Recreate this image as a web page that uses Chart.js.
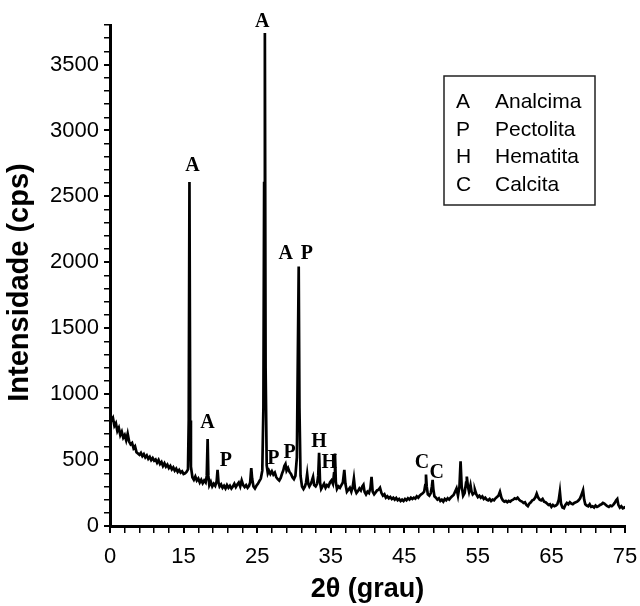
<!DOCTYPE html>
<html>
<head>
<meta charset="utf-8">
<script src="https://cdn.jsdelivr.net/npm/chart.js@4.4.0/dist/chart.umd.min.js"></script>
<style>
  html, body { margin: 0; padding: 0; background: #fff; }
  #wrap { width: 640px; height: 606px; }
</style>
</head>
<body>
<div id="wrap"><canvas id="c" width="640" height="606"></canvas></div>
<script>
// ---- Data ----
const twoTheta = [
  5.0,5.2,5.4,5.6,5.8,6.0,6.2,6.4,6.6,6.8,7.0,7.2,7.4,7.6,7.8,8.0,8.2,8.4,8.6,8.8,
  9.0,9.2,9.4,9.6,9.8,10.0,10.2,10.4,10.6,10.8,11.0,11.2,11.4,11.6,11.8,12.0,12.2,12.4,12.6,12.8,
  13.0,13.2,13.4,13.6,13.8,14.0,14.2,14.4,14.6,14.8,15.0,15.2,15.4,15.6,15.7,15.8,15.9,16.0,16.2,16.4,
  16.6,16.8,17.0,17.2,17.4,17.6,17.8,18.0,18.15,18.27,18.37,18.5,18.7,18.9,19.1,19.3,19.5,19.62,19.75,19.9,
  20.1,20.3,20.5,20.7,20.9,21.1,21.3,21.5,21.7,21.9,22.1,22.3,22.5,22.7,22.9,23.1,23.3,23.5,23.7,23.9,
  24.05,24.2,24.32,24.5,24.7,24.9,25.1,25.3,25.5,25.7,25.85,25.95,26.05,26.15,26.3,26.45,26.6,26.8,27.0,27.2,
  27.4,27.6,27.8,28.0,28.2,28.4,28.55,28.7,28.85,29.0,29.2,29.4,29.6,29.8,30.0,30.2,30.4,30.55,30.65,30.75,
  30.9,31.1,31.3,31.5,31.65,31.8,31.95,32.1,32.3,32.45,32.6,32.75,32.95,33.15,33.3,33.42,33.55,33.7,33.9,34.1,
  34.3,34.5,34.7,34.9,35.1,35.3,35.45,35.58,35.7,35.85,36.05,36.25,36.45,36.65,36.85,37.0,37.2,37.4,37.6,37.8,
  38.0,38.15,38.3,38.5,38.7,38.9,39.1,39.3,39.45,39.6,39.8,40.0,40.2,40.4,40.55,40.7,40.9,41.1,41.3,41.5,
  41.7,41.9,42.1,42.3,42.5,42.7,42.9,43.1,43.3,43.5,43.7,43.9,44.1,44.3,44.5,44.7,44.9,45.1,45.3,45.5,
  45.7,45.9,46.1,46.3,46.5,46.7,46.9,47.1,47.3,47.5,47.7,47.85,47.95,48.05,48.2,48.4,48.6,48.75,48.85,48.95,
  49.1,49.3,49.5,49.7,49.9,50.1,50.3,50.5,50.7,50.9,51.1,51.3,51.5,51.7,51.9,52.1,52.3,52.5,52.65,52.8,
  53.0,53.2,53.4,53.5,53.65,53.8,54.0,54.15,54.3,54.5,54.6,54.8,55.0,55.2,55.4,55.6,55.8,56.0,56.2,56.4,
  56.6,56.8,57.0,57.2,57.4,57.6,57.8,58.0,58.2,58.4,58.6,58.8,59.0,59.2,59.4,59.6,59.8,60.0,60.2,60.4,
  60.6,60.8,61.0,61.2,61.4,61.6,61.8,62.0,62.2,62.4,62.6,62.8,63.0,63.2,63.4,63.6,63.8,64.0,64.2,64.4,
  64.6,64.8,65.0,65.2,65.4,65.6,65.8,66.0,66.15,66.3,66.5,66.7,66.9,67.1,67.3,67.5,67.7,67.9,68.1,68.3,
  68.5,68.7,68.9,69.1,69.3,69.45,69.6,69.8,70.0,70.2,70.4,70.6,70.8,71.0,71.2,71.4,71.6,71.8,72.0,72.2,
  72.4,72.6,72.8,73.0,73.2,73.4,73.6,73.8,73.95,74.1,74.3,74.5,74.7,74.9,75.0
];
const intensity = [
  860,800,820,760,780,720,745,690,715,670,690,650,700,640,620,630,590,605,560,550,
  540,555,530,545,520,535,510,525,500,515,495,505,480,500,470,485,455,475,450,465,
  440,455,430,445,420,435,410,425,405,415,395,400,410,430,800,2610,800,450,370,350,
  375,345,360,330,350,325,345,330,380,660,380,310,335,300,320,305,340,425,330,300,
  315,290,305,285,310,290,305,285,300,320,295,315,330,300,345,310,295,310,290,305,
  330,440,360,300,285,305,320,340,360,420,900,2600,3740,1200,460,400,420,395,415,390,
  405,370,355,345,365,400,420,455,470,420,440,410,395,370,355,380,520,1400,1968,900,
  380,300,280,300,330,395,320,300,320,345,372,310,300,320,380,555,330,280,300,320,
  290,310,300,330,345,320,400,550,330,280,300,290,310,330,425,320,260,275,290,260,
  300,360,280,250,265,285,270,300,312,260,240,260,250,290,372,260,240,255,270,275,
  290,250,230,240,215,225,210,220,205,215,200,212,195,205,190,200,190,205,195,210,
  200,215,205,215,208,225,215,230,240,248,260,310,390,300,240,230,250,300,350,280,
  225,215,200,210,190,200,185,205,195,210,200,215,225,235,260,285,230,300,490,300,
  230,250,330,375,300,260,310,260,240,250,275,240,220,230,215,225,205,215,200,195,
  205,190,200,195,210,220,230,260,215,195,185,190,180,190,185,195,200,210,205,215,
  200,190,185,175,180,160,150,170,180,195,200,215,245,215,200,195,205,185,180,170,
  160,165,145,160,150,155,165,200,260,170,140,135,160,175,165,180,170,165,175,180,
  185,195,210,240,272,200,165,155,150,165,145,150,140,155,145,150,160,165,175,170,
  160,150,145,155,150,160,175,195,205,160,140,150,135,140,130
];

// Axis ticks / labels
const xLabelValues = [5, 15, 25, 35, 45, 55, 65, 75];
const xTickLabels  = ['0', '15', '25', '35', '45', '55', '65', '75'];
const yLabelValues = [0, 500, 1000, 1500, 2000, 2500, 3000, 3500];
const yTickLabels  = ['0', '500', '1000', '1500', '2000', '2500', '3000', '3500'];
const xTitle = '2θ (grau)';
const yTitle = 'Intensidade (cps)';

// Peak annotations (phase letters)
const peakLetters = ['A', 'A', 'A', 'P', 'A', 'P', 'P', 'P', 'H', 'H', 'C', 'C'];
const peakLabelX  = [16.2, 18.25, 25.7, 20.75, 28.9, 31.75, 27.2, 29.4, 33.4, 34.8, 47.4, 49.4];
const peakLabelY  = [2690, 745, 3782, 455, 2027, 2027, 473, 518, 601, 437, 437, 361];

// Legend
const legendCodes = ['A', 'P', 'H', 'C'];
const legendNames = ['Analcima', 'Pectolita', 'Hematita', 'Calcita'];

const FONT = "'Liberation Sans', Arial, sans-serif";
const SERIF = "'Liberation Serif', 'Times New Roman', serif";

const points = twoTheta.map((t, i) => ({ x: t, y: intensity[i] }));

const annotPlugin = {
  id: 'annot',
  afterDraw(chart) {
    const ctx = chart.ctx;
    const xs = chart.scales.x, ys = chart.scales.y;
    const ca = chart.chartArea;
    ctx.save();
    ctx.fillStyle = '#000';
    // y-axis title
    ctx.save();
    ctx.translate(20, (ca.top + ca.bottom) / 2 + 7);
    ctx.rotate(-Math.PI / 2);
    ctx.font = 'bold 29px ' + FONT;
    ctx.textAlign = 'center';
    ctx.textBaseline = 'middle';
    ctx.fillText(yTitle, 0, 0);
    ctx.restore();
    // peak letters
    ctx.font = 'bold 20px ' + SERIF;
    ctx.textAlign = 'center';
    ctx.textBaseline = 'alphabetic';
    peakLetters.forEach((s, i) => {
      ctx.fillText(s, xs.getPixelForValue(peakLabelX[i]), ys.getPixelForValue(peakLabelY[i]));
    });
    // legend box
    const bx = ca.right - 181, by = ca.top + 51, bw = 151, bh = 129;
    ctx.strokeStyle = '#222';
    ctx.lineWidth = 1.5;
    ctx.strokeRect(bx, by, bw, bh);
    ctx.font = '21px ' + FONT;
    ctx.textAlign = 'left';
    legendCodes.forEach((c, i) => {
      const yy = by + 32 + i * 27.6;
      ctx.fillText(c, bx + 12, yy);
      ctx.fillText(legendNames[i], bx + 51, yy);
    });
    ctx.restore();
  }
};

function tickSet(values) {
  return values.map(v => ({ value: v }));
}

const xTickValues = [];
for (let v = 5; v <= 75; v += 2) xTickValues.push(v);
const yTickValues = [];
for (let v = 0; v <= 3800; v += 100) yTickValues.push(v);

new Chart(document.getElementById('c'), {
  type: 'line',
  data: {
    datasets: [{
      data: points,
      borderColor: '#000',
      borderWidth: 2.7,
      pointRadius: 0,
      tension: 0,
      fill: false
    }]
  },
  options: {
    responsive: false,
    animation: false,
    events: [],
    layout: { padding: { top: 25, right: 15, left: 0, bottom: 0 } },
    plugins: { legend: { display: false }, tooltip: { enabled: false } },
    scales: {
      x: {
        type: 'linear',
        min: 5, max: 75,
        afterBuildTicks: s => { s.ticks = tickSet(xTickValues); },
        afterFit: s => { s.height = 80; s.paddingLeft = 0; s.paddingRight = 0; },
        border: { display: true, color: '#000', width: 3 },
        grid: {
          drawOnChartArea: false, drawTicks: true, tickLength: 7,
          color: '#000',
          lineWidth: c => (xLabelValues.includes(c.tick && c.tick.value) ? 2 : 1.5)
        },
        ticks: {
          autoSkip: false, maxRotation: 0, padding: 11,
          color: '#000',
          font: { family: FONT, size: 22 },
          callback: v => { const i = xLabelValues.indexOf(v); return i >= 0 ? xTickLabels[i] : ''; }
        },
        title: {
          display: true, text: xTitle, color: '#000',
          font: { family: FONT, size: 27, weight: 'bold' },
          padding: { top: 0, bottom: 0 }
        }
      },
      y: {
        type: 'linear',
        min: 0, max: 3800,
        afterBuildTicks: s => { s.ticks = tickSet(yTickValues); },
        afterFit: s => { s.width = 110; s.paddingTop = 0; s.paddingBottom = 0; },
        border: { display: true, color: '#000', width: 3 },
        grid: {
          drawOnChartArea: false, drawTicks: true, tickLength: 6,
          color: '#000',
          lineWidth: c => (yLabelValues.includes(c.tick && c.tick.value) ? 2 : 1.5)
        },
        ticks: {
          autoSkip: false, padding: 5,
          color: '#000',
          font: { family: FONT, size: 22 },
          callback: v => { const i = yLabelValues.indexOf(v); return i >= 0 ? yTickLabels[i] : ''; }
        }
      }
    }
  },
  plugins: [annotPlugin]
});
</script>
</body>
</html>
